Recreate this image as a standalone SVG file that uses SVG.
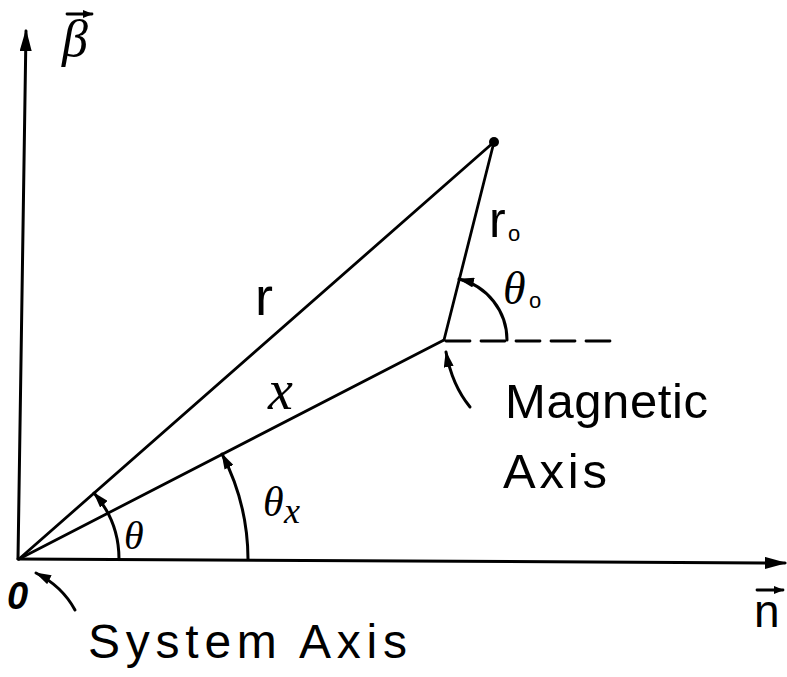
<svg xmlns="http://www.w3.org/2000/svg" width="787" height="677" viewBox="0 0 787 677">
<style>
.ln{stroke:#000;stroke-width:3;fill:none;stroke-linecap:round}
.thin{stroke:#000;stroke-width:2.8;fill:none;stroke-linecap:round}
.lbl{font-family:"Liberation Sans",Arial,sans-serif;fill:#000}
.math{font-family:"Liberation Serif","Times New Roman",serif;font-style:italic;fill:#000}
</style>
<defs>
<marker id="big" viewBox="0 0 22 12" refX="20" refY="6" markerWidth="22" markerHeight="12" markerUnits="userSpaceOnUse" orient="auto">
<path d="M0,0 L22,6 L0,12 Z" fill="#000"/>
</marker>
<marker id="small" viewBox="0 0 16 10" refX="15" refY="5" markerWidth="16" markerHeight="10" markerUnits="userSpaceOnUse" orient="auto">
<path d="M0,0 L16,5 L0,10 Z" fill="#000"/>
</marker>
<marker id="tiny" viewBox="0 0 10 8" refX="9" refY="4" markerWidth="10" markerHeight="8" markerUnits="userSpaceOnUse" orient="auto">
<path d="M0,0 L10,4 L0,8 Z" fill="#000"/>
</marker>
</defs>

<g id="axes">
<line class="ln" x1="18" y1="559" x2="26" y2="31" marker-end="url(#big)"/>
<line class="ln" x1="18" y1="559" x2="785" y2="563" marker-end="url(#big)"/>
</g>

<g id="connectors">
<line id="r-line" class="thin" x1="19" y1="559" x2="494" y2="142"/>
<line id="x-line" class="thin" x1="19" y1="559" x2="444" y2="340"/>
<line id="r0-line" class="thin" x1="444" y1="340" x2="494" y2="142"/>
<line id="dashed" class="thin" x1="446" y1="341" x2="612" y2="341" stroke-dasharray="24 11" stroke-linecap="butt"/>
<path id="arc-theta" class="ln" d="M119,559 A100,100 0 0 0 94,493" marker-end="url(#small)"/>
<path id="arc-thetax" class="ln" d="M248,559 A229,229 0 0 0 222,454" marker-end="url(#small)"/>
<path id="arc-theta0" class="ln" d="M507,340 A63,63 0 0 0 459,279" marker-end="url(#small)"/>
<path id="ptr-magnetic" class="ln" d="M470,407 Q452,385 446,352" marker-end="url(#small)"/>
<path id="ptr-system" class="ln" d="M75,610 Q62,586 36,573" marker-end="url(#small)"/>
</g>

<g id="point">
<circle cx="494" cy="142" r="5" fill="#000"/>
</g>

<g id="label-beta">
<line class="thin" x1="67" y1="14" x2="92" y2="14" marker-end="url(#tiny)"/>
<text class="math" x="62" y="56" font-size="52">β</text>
</g>
<g id="label-n">
<line class="thin" x1="757" y1="590" x2="783" y2="590" marker-end="url(#tiny)"/>
<text class="lbl" x="754" y="627" font-size="46">n</text>
</g>
<g id="label-r"><text class="lbl" x="255" y="315" font-size="54">r</text></g>
<g id="label-x"><text class="math" x="268" y="409" font-size="56">x</text></g>
<g id="label-r0">
<text class="lbl" x="489" y="237" font-size="50">r</text>
<text class="lbl" x="508" y="241" font-size="22">o</text>
</g>
<g id="label-theta0">
<text class="math" x="503" y="304" font-size="46">θ</text>
<text class="lbl" x="529" y="308" font-size="22">o</text>
</g>
<g id="label-theta"><text class="math" x="124" y="549" font-size="40">θ</text></g>
<g id="label-thetax">
<text class="math" x="263" y="516" font-size="42">θ</text>
<text class="math" x="284" y="523" font-size="36">x</text>
</g>
<g id="label-origin"><text class="lbl" x="7" y="609" font-size="38" font-style="italic" font-weight="bold">0</text></g>
<g id="label-magnetic">
<text class="lbl" x="505" y="418" font-size="49" textLength="203" lengthAdjust="spacing">Magnetic</text>
<text class="lbl" x="503" y="488" font-size="49" textLength="104" lengthAdjust="spacing">Axis</text>
</g>
<g id="label-system">
<text class="lbl" x="88" y="658" font-size="48" textLength="319" lengthAdjust="spacing">System Axis</text>
</g>
</svg>
